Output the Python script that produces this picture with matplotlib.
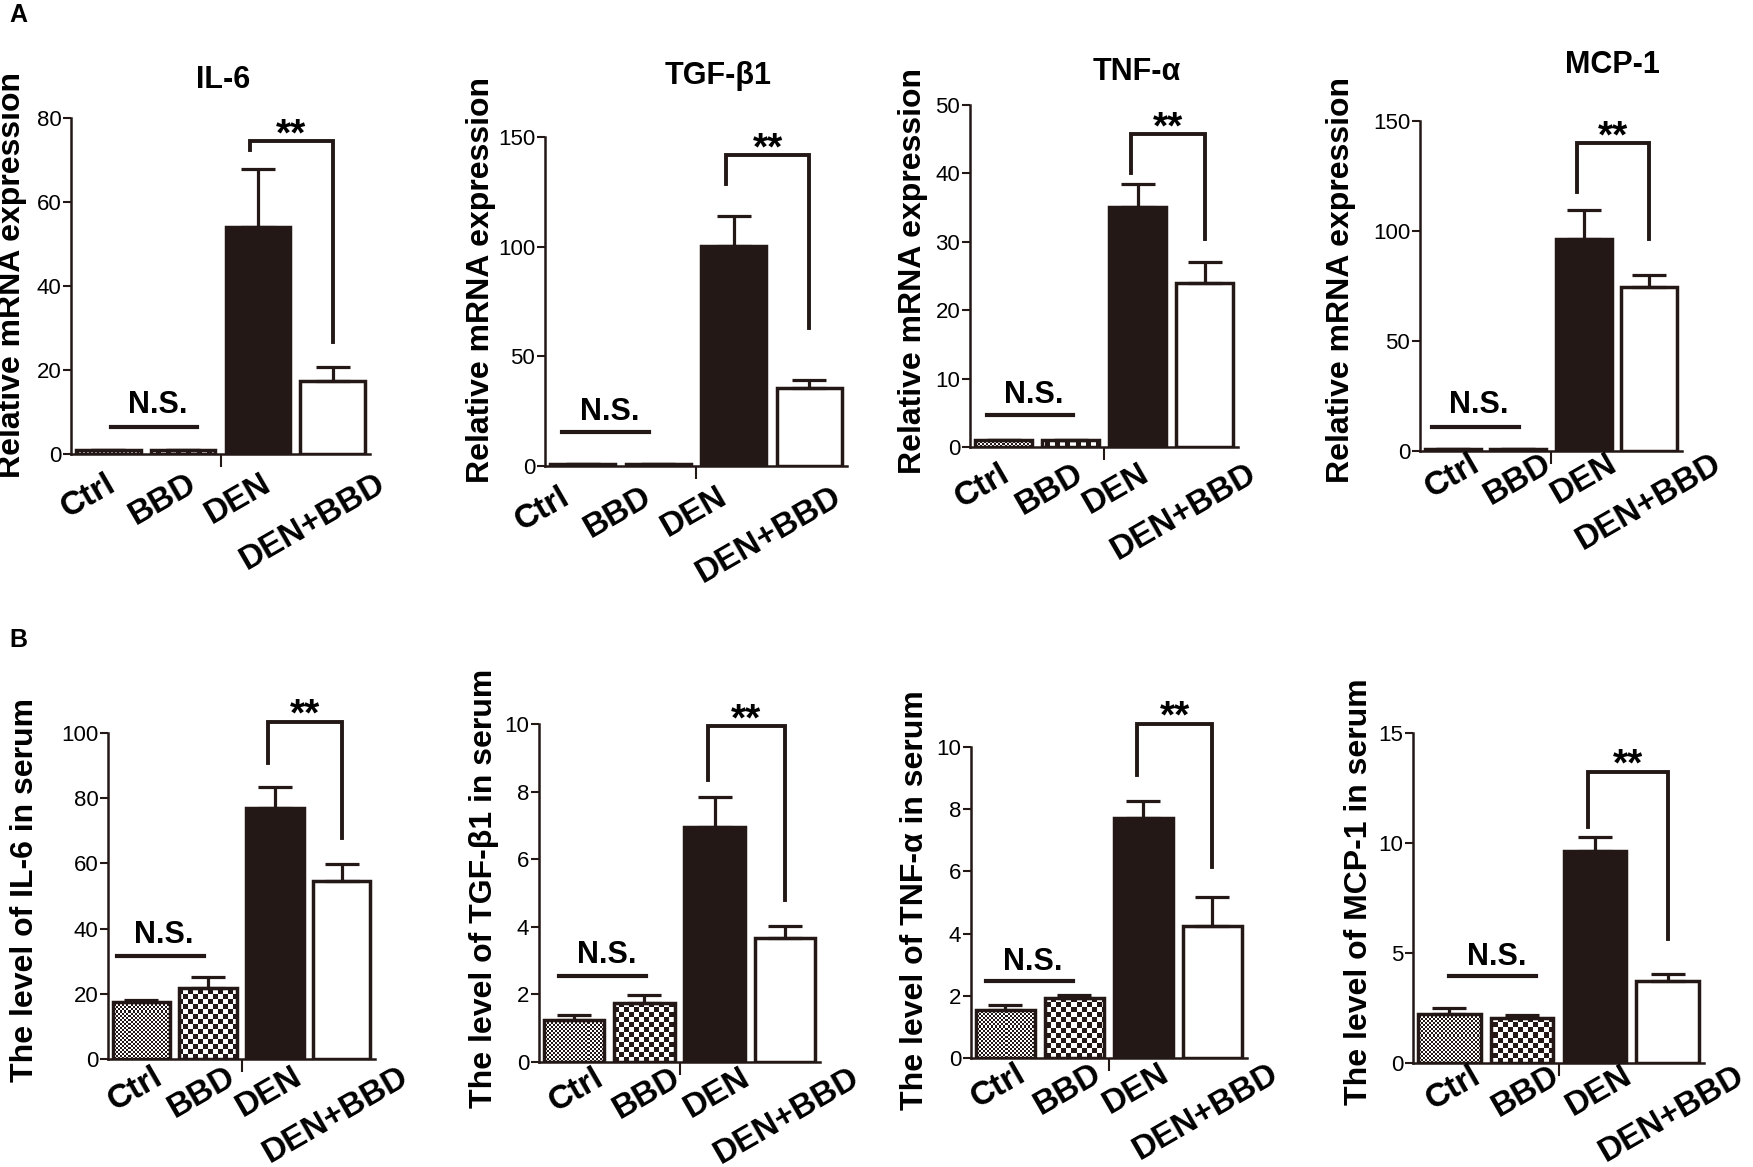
import numpy as np
import matplotlib
matplotlib.use('Agg')
import matplotlib.pyplot as plt
from matplotlib.colors import ListedColormap

plt.rcParams['font.family'] = ['Liberation Sans', 'DejaVu Sans']

groups = ['Ctrl', 'BBD', 'DEN', 'DEN+BBD']

# A: relative mRNA expression (mean, upper SEM)
il6_mrna = [1.0, 1.0, 54.0, 17.4]
il6_mrna_err = [0.0, 0.0, 13.9, 3.3]
tgf_mrna = [1.0, 1.0, 100.5, 35.4]
tgf_mrna_err = [0.0, 0.0, 13.6, 3.8]
tnf_mrna = [1.0, 1.0, 35.1, 24.0]
tnf_mrna_err = [0.0, 0.0, 3.3, 3.1]
mcp_mrna = [1.0, 1.0, 96.4, 74.7]
mcp_mrna_err = [0.0, 0.0, 13.1, 5.2]

# B: level in serum
il6_serum = [17.6, 21.7, 77.1, 54.6]
il6_serum_err = [0.5, 3.4, 6.4, 5.1]
tgf_serum = [1.24, 1.76, 6.96, 3.66]
tgf_serum_err = [0.16, 0.22, 0.87, 0.36]
tnf_serum = [1.55, 1.93, 7.73, 4.25]
tnf_serum_err = [0.14, 0.10, 0.54, 0.92]
mcp_serum = [2.23, 2.05, 9.65, 3.71]
mcp_serum_err = [0.27, 0.11, 0.62, 0.33]

titles = ['IL-6', 'TGF-β1', 'TNF-α', 'MCP-1']
serum_labels = ['The level of IL-6 in serum', 'The level of TGF-β1 in serum',
                'The level of TNF-α in serum', 'The level of MCP-1 in serum']

DARK = '#231815'
W, H = 1753, 1167
fig = plt.figure(figsize=(W / 100, H / 100), dpi=100)

# panel layout in pixels: left, right, zero line, top line
panels = [
    dict(box=(71, 370, 454, 118), ymax=80, step=20, m=il6_mrna, e=il6_mrna_err,
         sig=(74.5, 72.4, 26.7), ns=(6.4, 0.04, 1.19, 9.8), lab=(-20, 14),
         ylab='Relative mRNA expression', ylab_xy=(12, 275), title=titles[0], title_xy=(223, 80)),
    dict(box=(545, 847, 466, 137), ymax=150, step=50, m=tgf_mrna, e=tgf_mrna_err,
         sig=(141.8, 128.6, 63), ns=(15.6, -0.27, 0.88, 21), lab=(-40, 15),
         ylab='Relative mRNA expression', ylab_xy=(481, 280), title=titles[1], title_xy=(718, 76)),
    dict(box=(970, 1238, 447, 105), ymax=50, step=10, m=tnf_mrna, e=tnf_mrna_err,
         sig=(45.7, 40.0, 30.4), ns=(4.7, -0.25, 1.04, 6.4), lab=(-21, 11),
         ylab='Relative mRNA expression', ylab_xy=(913, 271), title=titles[2], title_xy=(1137, 72)),
    dict(box=(1420, 1682, 451, 121), ymax=150, step=50, m=mcp_mrna, e=mcp_mrna_err,
         sig=(139.9, 117.9, 96.4), ns=(11, -0.32, 1.01, 17.1), lab=(0, -3),
         ylab='Relative mRNA expression', ylab_xy=(1341, 280), title=titles[3], title_xy=(1612, 65)),
    dict(box=(108, 375, 1059, 733), ymax=100, step=20, m=il6_serum, e=il6_serum_err,
         sig=(103.5, 90.7, 67.7), ns=(31.7, -0.36, 0.94, 35.5), lab=(-6, 2),
         ylab=serum_labels[0], ylab_xy=(25, 890)),
    dict(box=(539, 820, 1062, 724), ymax=10, step=2, m=tgf_serum, e=tgf_serum_err,
         sig=(9.93, 8.35, 4.79), ns=(2.55, -0.21, 1.03, 2.92), lab=(2, 0),
         ylab=serum_labels[1], ylab_xy=(484, 888)),
    dict(box=(971, 1247, 1058, 747), ymax=10, step=2, m=tnf_serum, e=tnf_serum_err,
         sig=(10.75, 9.09, 6.15), ns=(2.48, -0.28, 0.98, 2.83), lab=(-7, 0),
         ylab=serum_labels[2], ylab_xy=(915, 900)),
    dict(box=(1413, 1704, 1063, 733), ymax=15, step=5, m=mcp_serum, e=mcp_serum_err,
         sig=(13.25, 10.75, 5.64), ns=(3.97, 0.0, 1.19, 4.47), lab=(4, -3),
         ylab=serum_labels[3], ylab_xy=(1359, 892)),
]


def checker(wpx, hpx, cell):
    yy, xx = np.mgrid[0:hpx, 0:wpx]
    return ((yy // cell + xx // cell) % 2).astype(float)


cmap2 = ListedColormap(['white', DARK])
x = np.arange(len(groups))
bw = 0.86

for p in panels:
    l, r, z, t = p['box']
    ax = fig.add_axes([l / W, 1 - z / H, (r - l) / W, (z - t) / H])
    wpx, hpx = r - l, z - t

    faces = ['white', 'white', DARK, 'white']
    bars = ax.bar(x, p['m'], width=bw, color=faces, edgecolor='none', zorder=1)
    for bar, cell in zip(bars[:2], [2, 5]):
        im = ax.imshow(checker(wpx, hpx, cell), extent=[0, 1, 0, 1], transform=ax.transAxes,
                       cmap=cmap2, interpolation='nearest', aspect='auto', origin='lower', zorder=2)
        im.set_clip_path(bar)
    ax.bar(x, p['m'], width=bw, fill=False, edgecolor=DARK, linewidth=2.5, zorder=3)
    ax.errorbar(x, p['m'], yerr=[np.zeros(4), p['e']], fmt='none', ecolor=DARK,
                elinewidth=2.3, capsize=12, capthick=2.3, zorder=2.5)

    ax.set_xlim(-0.5, 3.5)
    ax.set_ylim(0, p['ymax'])
    ax.set_aspect('auto')
    for s in ['top', 'right']:
        ax.spines[s].set_visible(False)
    for s in ['left', 'bottom']:
        ax.spines[s].set_linewidth(1.8)
        ax.spines[s].set_color(DARK)
    ax.set_yticks(np.arange(0, p['ymax'] + p['step'] / 2, p['step']))
    ax.set_xticks([1.5])
    ax.set_xticklabels([''])
    ax.tick_params(axis='y', length=6, width=1.5, pad=1, labelsize=16, colors=DARK, labelcolor='black')
    ax.tick_params(axis='x', length=9, width=1.5, colors=DARK)

    for i, g in enumerate(groups):
        ax.annotate(g, xy=(i, 0), xytext=(p['lab'][0], -p['lab'][1]), textcoords='offset pixels',
                    rotation=30, ha='center', va='top', fontsize=24, fontweight='bold',
                    annotation_clip=False)

    # significance bracket DEN vs DEN+BBD
    top, lb, rb = p['sig']
    xl, xr = 1.9, 3.0
    ax.plot([xl, xl, xr, xr], [lb, top, top, rb], color=DARK, lw=2.8, clip_on=False,
            solid_joinstyle='miter', zorder=4)
    ax.annotate('**', xy=((xl + xr) / 2, top), xytext=(0, -4), textcoords='offset pixels',
                ha='center', va='baseline', fontsize=28, fontweight='bold', annotation_clip=False)

    # N.S. Ctrl vs BBD
    ny, nx0, nx1, nty = p['ns']
    ax.plot([nx0, nx1], [ny, ny], color=DARK, lw=3, clip_on=False, zorder=4)
    ax.text((nx0 + nx1) / 2 + 0.05, nty, 'N.S.', ha='center', va='baseline', fontsize=22,
            fontweight='bold')

    fig.text(p['ylab_xy'][0] / W, 1 - p['ylab_xy'][1] / H, p['ylab'], rotation=90,
             ha='center', va='center', fontsize=23, fontweight='bold')
    if 'title' in p:
        fig.text(p['title_xy'][0] / W, 1 - p['title_xy'][1] / H, p['title'],
                 ha='center', va='center', fontsize=22, fontweight='bold')

fig.text(18 / W, 1 - 15 / H, 'A', ha='center', va='center', fontsize=18, fontweight='bold')
fig.text(18 / W, 1 - 640 / H, 'B', ha='center', va='center', fontsize=18, fontweight='bold')

fig.savefig('out.png', dpi=100)
